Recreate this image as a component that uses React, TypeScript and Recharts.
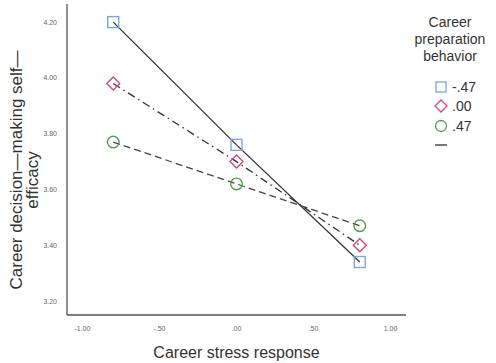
import { LineChart, Line, XAxis, YAxis, Legend } from 'recharts';

// career stress response (x) at -1SD, mean, +1SD
const stressLevels = [-0.8, 0, 0.8];
// career decision-making self-efficacy per career preparation behavior level
const prepLow = [4.2, 3.76, 3.34];
const prepMid = [3.98, 3.7, 3.4];
const prepHigh = [3.77, 3.62, 3.47];

const xTicks = [-1, -0.5, 0, 0.5, 1];
const yTicks = [3.2, 3.4, 3.6, 3.8, 4.0, 4.2];
const legendLabels = ['-.47', '.00', '.47'];

const data = stressLevels.map((x, i) => ({
  x,
  low: prepLow[i],
  mid: prepMid[i],
  high: prepHigh[i],
}));

const BLUE = '#7fa6d8';
const RED = '#d24a72';
const GREEN = '#4f9d50';
const FONT = '"Liberation Sans", Arial, sans-serif';

const fmtX = (v: number) => v.toFixed(2).replace(/^(-?)0\./, '$1.');
const fmtY = (v: number) => v.toFixed(2);

const SquareDot = (p: any) => (
  <rect key={p.index} x={p.cx - 5.5} y={p.cy - 5.5} width={11} height={11} fill="none" stroke={BLUE} strokeWidth={1.4} />
);
const DiamondDot = (p: any) => (
  <polygon
    key={p.index}
    points={`${p.cx},${p.cy - 6.5} ${p.cx + 6.5},${p.cy} ${p.cx},${p.cy + 6.5} ${p.cx - 6.5},${p.cy}`}
    fill="none"
    stroke={RED}
    strokeWidth={1.4}
  />
);
const CircleDot = (p: any) => (
  <circle key={p.index} cx={p.cx} cy={p.cy} r={5.8} fill="none" stroke={GREEN} strokeWidth={1.4} />
);

function renderLegend() {
  const icons = [
    <rect x={2} y={2} width={10} height={10} fill="none" stroke={BLUE} strokeWidth={1.3} />,
    <polygon points="7,1 13,7 7,13 1,7" fill="none" stroke={RED} strokeWidth={1.3} />,
    <circle cx={7} cy={7} r={5.5} fill="none" stroke={GREEN} strokeWidth={1.3} />,
  ];
  return (
    <div style={{ fontFamily: FONT, color: '#333', width: 90 }}>
      <div style={{ textAlign: 'center', fontSize: 14, lineHeight: '17px' }}>
        Career
        <br />
        preparation
        <br />
        behavior
      </div>
      <div style={{ marginTop: 12, paddingLeft: 29 }}>
        {legendLabels.map((lab, i) => (
          <div key={lab} style={{ display: 'flex', alignItems: 'center', height: 19.5, fontSize: 14 }}>
            <svg width={14} height={14} style={{ marginRight: 4 }}>
              {icons[i]}
            </svg>
            <span>{lab}</span>
          </div>
        ))}
        <div style={{ display: 'flex', alignItems: 'center', height: 19.5 }}>
          <svg width={14} height={14}>
            <line x1={1} y1={7} x2={13} y2={7} stroke="#555" strokeWidth={1.6} />
          </svg>
        </div>
      </div>
    </div>
  );
}

const yLabel = () => (
  <g fontFamily={FONT} fontSize={17} fill="#333">
    <text transform="translate(22,170) rotate(-90)" textAnchor="middle">
      Career decision—making self—
    </text>
    <text transform="translate(38,180) rotate(-90)" textAnchor="middle">
      efficacy
    </text>
  </g>
);

export default function App() {
  return (
    <div style={{ position: 'absolute', left: 0, top: 0, background: '#fff' }}>
      <LineChart width={496} height={363} data={data} margin={{ top: 4, right: 90, left: 37, bottom: 0 }}>
        <XAxis
          type="number"
          dataKey="x"
          domain={[-1.1, 1.1]}
          ticks={xTicks}
          tickFormatter={fmtX}
          tickLine={false}
          tickMargin={5}
          height={48}
          axisLine={{ stroke: '#555', strokeWidth: 1.3 }}
          tick={{ fontSize: 7, fill: '#666', fontFamily: FONT }}
          label={{
            value: 'Career stress response',
            position: 'insideBottom',
            offset: 5,
            fontSize: 16,
            fill: '#333',
            fontFamily: FONT,
          }}
        />
        <YAxis
          type="number"
          domain={[3.15, 4.265]}
          ticks={yTicks}
          tickFormatter={fmtY}
          tickLine={false}
          tickMargin={4}
          width={30}
          axisLine={{ stroke: '#555', strokeWidth: 1.3 }}
          tick={{ fontSize: 7, fill: '#666', fontFamily: FONT }}
          label={{ content: yLabel }}
        />
        <Legend
          layout="horizontal"
          verticalAlign="middle"
          content={renderLegend}
          wrapperStyle={{ position: 'absolute', left: 405, top: 14, width: 90 }}
        />
        <Line dataKey="low" stroke="#333" strokeWidth={1.3} dot={SquareDot} activeDot={false} isAnimationActive={false} />
        <Line
          dataKey="mid"
          stroke="#333"
          strokeWidth={1.3}
          strokeDasharray="8 4 1.5 4"
          dot={DiamondDot}
          activeDot={false}
          isAnimationActive={false}
        />
        <Line
          dataKey="high"
          stroke="#444"
          strokeWidth={1.3}
          strokeDasharray="7 4"
          dot={CircleDot}
          activeDot={false}
          isAnimationActive={false}
        />
      </LineChart>
    </div>
  );
}
